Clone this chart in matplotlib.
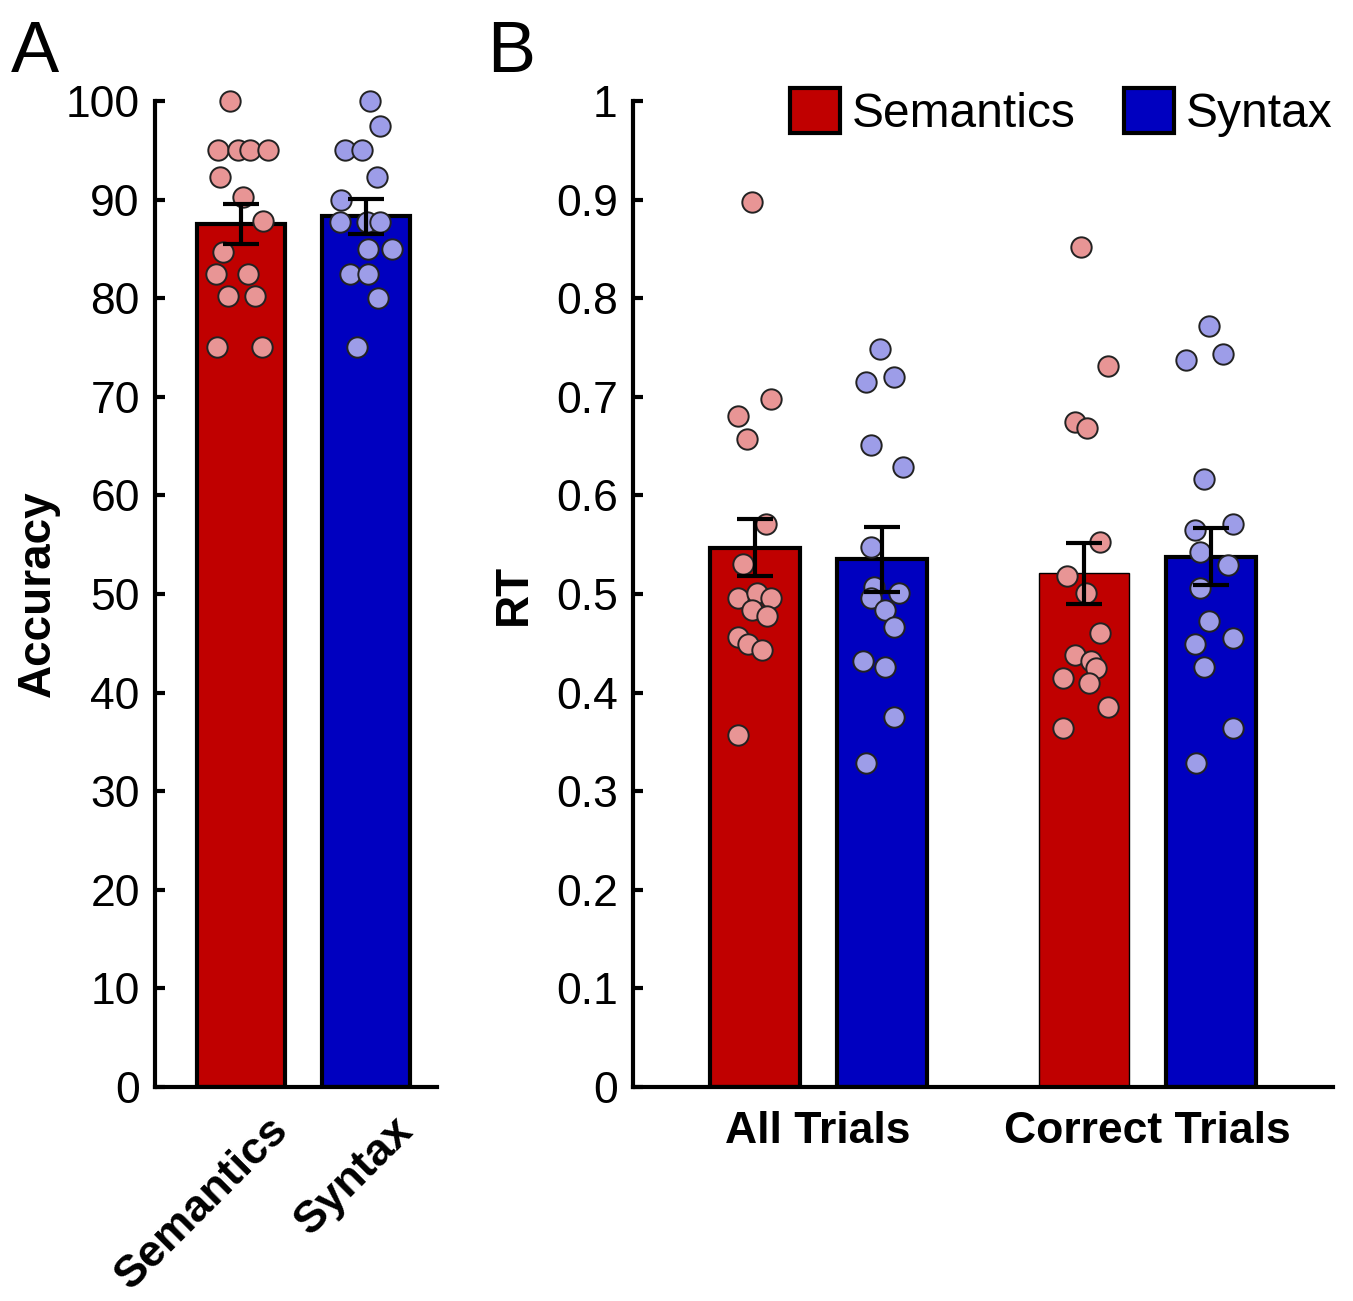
"""Accuracy (A) and RT (B) bar charts with per-subject dots, Semantics vs Syntax."""
import matplotlib
matplotlib.use("Agg")
import matplotlib.pyplot as plt
import matplotlib.transforms as mtransforms
from matplotlib.patches import Patch

plt.rcParams["font.family"] = ["Liberation Sans", "DejaVu Sans"]

# ---- data ----------------------------------------------------------------
CONDITIONS = ["Semantics", "Syntax"]
TRIAL_SETS = ["All Trials", "Correct Trials"]

ACC_MEAN = [87.5, 88.3]
ACC_SEM = [2.0, 1.75]
ACC_SEM_DOTS = [100, 95, 95, 95, 95, 92.3, 90.3, 87.8, 84.7, 82.5, 82.5, 80.2, 80.2, 75, 75]
ACC_SEM_JIT = [-0.09, -0.18, -0.02, 0.07, 0.22, -0.17, 0.02, 0.18, -0.14, -0.20, 0.06, -0.10, 0.11, -0.19, 0.17]
ACC_SYN_DOTS = [100, 97.5, 95, 95, 92.3, 90, 87.7, 87.7, 87.7, 85, 85, 82.5, 82.5, 80, 75]
ACC_SYN_JIT = [0.03, 0.11, -0.17, -0.03, 0.09, -0.20, -0.21, 0.01, 0.11, 0.02, 0.21, -0.13, 0.02, 0.10, -0.07]

# RT: order = [All/Semantics, All/Syntax, Correct/Semantics, Correct/Syntax]
RT_MEAN = [0.547, 0.535, 0.521, 0.538]
RT_SEM = [0.029, 0.033, 0.031, 0.029]
RT_DOTS = [
    [0.898, 0.698, 0.680, 0.657, 0.571, 0.530, 0.496, 0.501, 0.496, 0.484, 0.478, 0.456, 0.449, 0.443, 0.357],
    [0.748, 0.715, 0.720, 0.651, 0.629, 0.548, 0.507, 0.501, 0.496, 0.484, 0.467, 0.432, 0.426, 0.375, 0.329],
    [0.852, 0.731, 0.674, 0.668, 0.553, 0.518, 0.501, 0.460, 0.438, 0.432, 0.425, 0.415, 0.410, 0.385, 0.364],
    [0.772, 0.737, 0.743, 0.617, 0.565, 0.571, 0.543, 0.529, 0.506, 0.473, 0.449, 0.455, 0.426, 0.364, 0.329],
]
RT_JIT = [
    [-0.02, 0.13, -0.13, -0.06, 0.09, -0.09, -0.13, 0.02, 0.13, -0.02, 0.10, -0.13, -0.05, 0.06, -0.13],
    [-0.01, -0.12, 0.10, -0.08, 0.17, -0.08, -0.06, 0.14, -0.08, 0.03, 0.10, -0.15, 0.03, 0.10, -0.12],
    [-0.03, 0.19, -0.07, 0.02, 0.12, -0.14, 0.01, 0.12, -0.07, 0.05, 0.09, -0.17, 0.04, 0.19, -0.17],
    [-0.02, -0.20, 0.09, -0.06, -0.13, 0.17, -0.09, 0.13, -0.09, -0.02, -0.13, 0.17, -0.06, 0.17, -0.12],
]

# ---- style -----------------------------------------------------------------
BAR_COLORS = ["#C00000", "#0000C0"]
DOT_COLORS = ["#E89595", "#9D9DE8"]
FS = 32
LW = 3
DOT_S = 215
BAR_W = 0.71


def style_axes(ax):
    for side in ("top", "right"):
        ax.spines[side].set_visible(False)
    for side in ("left", "bottom"):
        ax.spines[side].set_linewidth(LW)
    ax.tick_params(axis="y", direction="in", length=7, width=LW, pad=11, labelsize=FS)
    ax.tick_params(axis="x", length=0, labelsize=FS)


def draw_bars(ax, xs, means, sems, dots, jits, colors, dcolors, edge_lws):
    for x, m, e, d, j, c, dc, elw in zip(xs, means, sems, dots, jits, colors, dcolors, edge_lws):
        ax.bar(x, m, width=BAR_W, color=c, edgecolor="black", linewidth=elw, zorder=2)
        ax.scatter([x + o for o in j], d, s=DOT_S, color=dc, edgecolor="#222222",
                   linewidth=1.4, zorder=3, clip_on=False)
        ax.errorbar(x, m, yerr=e, fmt="none", ecolor="black", elinewidth=LW,
                    capsize=13, capthick=LW, zorder=4)


fig = plt.figure(figsize=(13.53, 13.01), dpi=100)

# ---- panel A ---------------------------------------------------------------
axA = fig.add_axes([0.1146, 0.1645, 0.2084, 0.7579])
xa = [1, 2]
draw_bars(axA, xa, ACC_MEAN, ACC_SEM, [ACC_SEM_DOTS, ACC_SYN_DOTS],
          [ACC_SEM_JIT, ACC_SYN_JIT], BAR_COLORS, DOT_COLORS, [LW, LW])
axA.set_xlim(0.312, 2.57)
axA.set_ylim(0, 100)
axA.set_yticks(range(0, 101, 10))
axA.set_xticks(xa)
axA.set_xticklabels([])
shift = mtransforms.ScaledTranslation(0.55, -0.22, fig.dpi_scale_trans)
for x, name in zip(xa, CONDITIONS):
    axA.text(x, 0, name, rotation=45, ha="right", va="top", fontsize=32.5,
             fontweight="bold", transform=axA.get_xaxis_transform() + shift)
axA.set_ylabel("Accuracy", fontsize=33, fontweight="bold", labelpad=4)
style_axes(axA)

# ---- panel B ---------------------------------------------------------------
axB = fig.add_axes([0.4678, 0.1645, 0.5174, 0.7579])
xb = [1, 2, 3.6, 4.6]
draw_bars(axB, xb, RT_MEAN, RT_SEM, RT_DOTS, RT_JIT,
          BAR_COLORS * 2, DOT_COLORS * 2, [LW, LW, 1, LW])
axB.set_xlim(0.039, 5.561)
axB.set_ylim(0, 1)
axB.set_yticks([i / 10 for i in range(11)])
axB.set_yticklabels(["0"] + [f"{i / 10:.1f}" for i in range(1, 10)] + ["1"])
axB.set_xticks([(xb[0] + xb[1]) / 2, (xb[2] + xb[3]) / 2])
axB.set_xticklabels(TRIAL_SETS, fontweight="bold", fontsize=36)
style_axes(axB)
axB.tick_params(axis="x", pad=17)
axB.set_ylabel("RT", fontsize=33, fontweight="bold", labelpad=14)

handles = [Patch(facecolor=c, edgecolor="black", linewidth=LW, label=n)
           for c, n in zip(BAR_COLORS, CONDITIONS)]
axB.legend(handles=handles, loc="upper right", bbox_to_anchor=(1.0, 1.013), ncol=2,
           frameon=False, fontsize=34.5, handlelength=1.05, handleheight=1.05,
           handletextpad=0.25, columnspacing=1.0, borderaxespad=0, borderpad=0)

fig.text(0.008, 0.945, "A", fontsize=52)
fig.text(0.360, 0.945, "B", fontsize=52)

fig.savefig("out.png", dpi=100)
